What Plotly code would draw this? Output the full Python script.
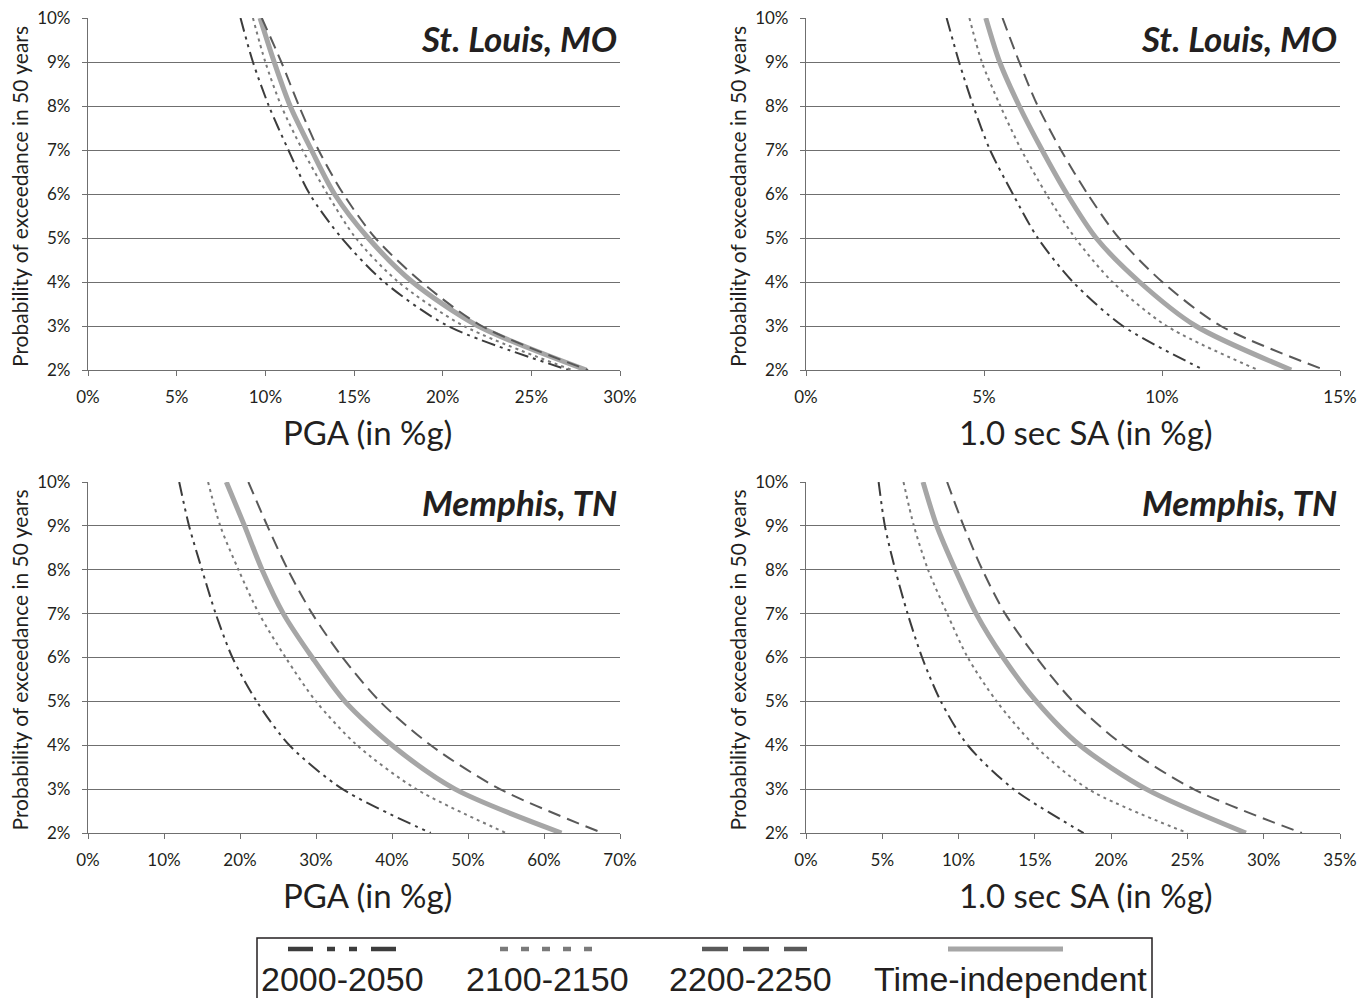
import plotly.graph_objects as go

# Probability of exceedance in 50 years (%), shared by every curve
poe = [10, 9, 8, 7, 6, 5, 4, 3, 2]

# St. Louis, MO - PGA (%g)
stl_pga_2000 = [8.6, 9.3, 10.2, 11.3, 12.5, 14.3, 16.7, 20.3, 27.1]
stl_pga_2100 = [9.3, 10.0, 10.9, 12.1, 13.5, 15.1, 17.5, 21.2, 27.3]
stl_pga_2200 = [9.8, 10.9, 11.9, 13.0, 14.4, 16.2, 18.8, 22.2, 28.2]
stl_pga_ti = [9.7, 10.5, 11.4, 12.6, 13.9, 15.8, 18.3, 22.0, 28.1]

# St. Louis, MO - 1.0 sec SA (%g)
stl_sa_2000 = [3.95, 4.3, 4.7, 5.17, 5.81, 6.51, 7.5, 8.9, 11.18]
stl_sa_2100 = [4.59, 4.94, 5.46, 6.05, 6.75, 7.56, 8.61, 10.13, 12.7]
stl_sa_2200 = [5.52, 5.99, 6.51, 7.16, 7.91, 8.79, 10.01, 11.65, 14.57]
stl_sa_ti = [5.05, 5.44, 5.99, 6.63, 7.33, 8.15, 9.37, 10.95, 13.63]

# Memphis, TN - PGA (%g)
mem_pga_2000 = [12.0, 13.3, 15.0, 16.8, 19.0, 22.2, 26.5, 33.5, 45.1]
mem_pga_2100 = [15.8, 17.4, 19.8, 22.5, 26.0, 30.0, 35.4, 43.2, 55.0]
mem_pga_2200 = [21.1, 23.6, 26.3, 29.5, 33.5, 38.4, 45.1, 54.2, 67.7]
mem_pga_ti = [18.2, 20.6, 22.9, 25.7, 29.5, 33.8, 40.0, 48.3, 62.3]

# Memphis, TN - 1.0 sec SA (%g)
mem_sa_2000 = [4.76, 5.17, 5.85, 6.66, 7.61, 8.84, 10.6, 13.6, 18.2]
mem_sa_2100 = [6.39, 7.07, 8.0, 9.25, 10.6, 12.5, 14.96, 18.5, 25.0]
mem_sa_2200 = [9.25, 10.33, 11.56, 13.05, 15.1, 17.5, 20.8, 25.4, 32.5]
mem_sa_ti = [7.67, 8.57, 9.79, 11.15, 12.92, 15.1, 17.95, 22.3, 28.83]

series_names = ["2000-2050", "2100-2150", "2200-2250", "Time-independent"]
panel_titles = ["St. Louis, MO", "St. Louis, MO", "Memphis, TN", "Memphis, TN"]
x_titles = ["PGA (in %g)", "1.0 sec SA (in %g)", "PGA (in %g)", "1.0 sec SA (in %g)"]
x_ranges = [30, 15, 70, 35]
x_dticks = [5, 5, 10, 5]
y_title = "Probability of exceedance in 50 years"

panels = [
    [stl_pga_2000, stl_pga_2100, stl_pga_2200, stl_pga_ti],
    [stl_sa_2000, stl_sa_2100, stl_sa_2200, stl_sa_ti],
    [mem_pga_2000, mem_pga_2100, mem_pga_2200, mem_pga_ti],
    [mem_sa_2000, mem_sa_2100, mem_sa_2200, mem_sa_ti],
]

W, H = 1367, 998
FONT = "Lato, 'Open Sans', sans-serif"
LEG_FONT = "'Liberation Sans', Arial, sans-serif"
GRID = "#6f6f6f"
INK = "#231f20"


def px(x):
    return x / W


def py(y):
    return 1 - y / H


# line styles: colour, width, dash (plot) and dash (legend sample)
styles = [
    dict(color="#3c3c3c", width=2, dash="14px,5px,3px,5px,3px,5px",
         leg_dash="25px,14px,8px,14px,8px,14px", leg_w=4.5),
    dict(color="#7a7a7a", width=2, dash="3px,4px",
         leg_dash="8px,13px", leg_w=4.5),
    dict(color="#595959", width=2, dash="13px,7px",
         leg_dash="26px,15px", leg_w=4.5),
    dict(color="#a6a6a6", width=5, dash="solid",
         leg_dash="solid", leg_w=5),
]

# panel pixel boxes: (left, right, top, bottom)
boxes = [
    (88, 620, 18, 370),
    (806, 1340, 18, 370),
    (88, 620, 482, 833),
    (806, 1340, 482, 833),
]

fig = go.Figure()
layout = {}
annotations = []
shapes = []

for i, (vals, box) in enumerate(zip(panels, boxes)):
    n = i + 1
    xa = "x" if n == 1 else f"x{n}"
    ya = "y" if n == 1 else f"y{n}"
    # dashed/dotted series, with the grey time-independent curve under the long dashes
    order = [0, 1, 3, 2]
    for k in order:
        st = styles[k]
        fig.add_trace(go.Scatter(
            x=vals[k], y=poe, mode="lines", name=series_names[k],
            line=dict(color=st["color"], width=st["width"], dash=st["dash"],
                      shape="spline", smoothing=0.8),
            xaxis=xa, yaxis=ya, showlegend=False,
        ))
    l, r, t, b = box
    layout[f"xaxis{'' if n == 1 else n}"] = dict(
        domain=[px(l), px(r)], anchor=ya, range=[0, x_ranges[i]],
        dtick=x_dticks[i], tick0=0, ticksuffix="%", showgrid=False,
        showline=True, linecolor=GRID, linewidth=1.2,
        ticks="outside", ticklen=5, tickcolor=GRID, tickwidth=1.2,
        ticklabelstandoff=6, automargin=False,
        tickfont=dict(family=FONT, size=17, color=INK),
        zeroline=False, fixedrange=True,
    )
    layout[f"yaxis{'' if n == 1 else n}"] = dict(
        domain=[py(b), py(t)], anchor=xa, range=[2, 10], dtick=1, tick0=2,
        ticksuffix="%", showgrid=True, gridcolor=GRID, gridwidth=1.2,
        showline=True, linecolor=GRID, linewidth=1.2,
        ticks="outside", ticklen=5, tickcolor=GRID, tickwidth=1.2,
        ticklabelstandoff=8, automargin=False,
        tickfont=dict(family=FONT, size=17, color=INK),
        zeroline=False, fixedrange=True,
    )
    # place name in the top-right corner
    annotations.append(dict(
        x=px(r - 1), y=py(t + 20), xref="paper", yref="paper",
        xanchor="right", yanchor="middle", showarrow=False,
        text=f"<b><i>{panel_titles[i]}</i></b>",
        font=dict(family=FONT, size=35, color=INK),
    ))
    # x axis title
    annotations.append(dict(
        x=px((l + r) / 2 + 13), y=py(b + 62), xref="paper", yref="paper",
        xanchor="center", yanchor="middle", showarrow=False,
        text=x_titles[i], font=dict(family=FONT, size=33, color=INK),
    ))
    # y axis title
    annotations.append(dict(
        x=px(l - 69), y=py((t + b) / 2 + 3), xref="paper", yref="paper",
        xanchor="center", yanchor="middle", showarrow=False, textangle=-90,
        text=y_title, font=dict(family=FONT, size=21, color=INK),
    ))

# legend box with line samples above each label
shapes.append(dict(type="rect", xref="paper", yref="paper",
                   x0=px(257), x1=px(1152), y0=py(1015), y1=py(938),
                   line=dict(color=INK, width=1.5), fillcolor="rgba(0,0,0,0)"))
sample_x = [(288, 396), (500, 597), (702, 807), (948, 1063)]
label_x = [342, 547, 750, 1010]
for k in range(4):
    st = styles[k]
    x0, x1 = sample_x[k]
    shapes.append(dict(type="line", xref="paper", yref="paper",
                       x0=px(x0), x1=px(x1), y0=py(949), y1=py(949),
                       line=dict(color=st["color"], width=st["leg_w"], dash=st["leg_dash"])))
    annotations.append(dict(
        x=px(label_x[k]), y=py(979), xref="paper", yref="paper",
        xanchor="center", yanchor="middle", showarrow=False,
        text=series_names[k],
        font=dict(family=LEG_FONT, size=34, color=INK),
    ))

fig.update_layout(
    template="none",
    width=W, height=H, margin=dict(l=0, r=0, t=0, b=0, pad=0, autoexpand=False),
    paper_bgcolor="white", plot_bgcolor="white",
    annotations=annotations, shapes=shapes, showlegend=False,
    **layout,
)

fig.write_html("out.html", config=dict(displayModeBar=False))
